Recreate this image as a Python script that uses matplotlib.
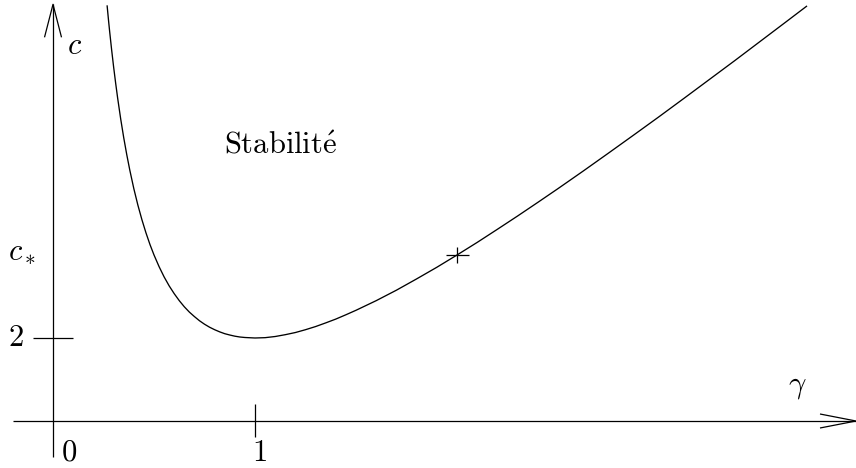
import numpy as np
import matplotlib.pyplot as plt

plt.rcParams['mathtext.fontset'] = 'cm'
plt.rcParams['font.family'] = 'serif'

# stability boundary c(gamma), minimum c = 2 at gamma = 1
gamma = [0.268, 0.275, 0.28, 0.29, 0.30, 0.31, 0.32, 0.335, 0.35, 0.365,
         0.38, 0.40, 0.42, 0.44, 0.46, 0.48, 0.50, 0.525, 0.55, 0.575,
         0.60, 0.625, 0.65, 0.675, 0.70, 0.725, 0.75, 0.775, 0.80, 0.825,
         0.85, 0.875, 0.90, 0.925, 0.95, 1.00, 1.05, 1.10, 1.15, 1.20,
         1.25, 1.30, 1.35, 1.40, 1.45, 1.50, 1.60, 1.70, 1.80, 1.90,
         2.00, 2.10, 2.20, 2.30, 2.40, 2.50, 2.625, 2.75, 2.875, 3.00,
         3.125, 3.25, 3.375, 3.50, 3.625, 3.73]
c = [4.00, 3.911, 3.851, 3.738, 3.633, 3.536, 3.445, 3.320, 3.207, 3.105,
     3.012, 2.900, 2.801, 2.713, 2.634, 2.563, 2.500, 2.430, 2.368, 2.314,
     2.267, 2.225, 2.188, 2.156, 2.129, 2.104, 2.083, 2.065, 2.050, 2.037,
     2.026, 2.018, 2.011, 2.006, 2.003, 2.000, 2.002, 2.009, 2.020, 2.033,
     2.050, 2.069, 2.091, 2.114, 2.140, 2.167, 2.225, 2.288, 2.356, 2.426,
     2.500, 2.576, 2.655, 2.735, 2.817, 2.900, 3.006, 3.114, 3.223, 3.333,
     3.445, 3.558, 3.671, 3.786, 3.901, 3.998]

# marked point (gamma_*, c_*)
g_star = 2.0
c_star = 2.5

# axis placement and ticks
c_axis = 1.5      # height of the gamma axis

fig = plt.figure(figsize=(8.56, 4.68), dpi=100)
ax = fig.add_axes([0, 0, 1, 1])
ax.set_xlim(-0.2624, 3.975)
ax.set_ylim(1.2169, 4.036)
ax.axis('off')

# pixel -> data scale
sx = 1 / 202.0
sy = 1 / 166.0
kw = dict(color='black', lw=0.9, solid_capstyle='butt', clip_on=False)

# gamma axis with open arrow head
x0, x1 = -0.198, 3.975
ax.plot([x0, x1], [c_axis, c_axis], **kw)
ax.plot([x1 - 36 * sx, x1, x1 - 36 * sx],
        [c_axis + 7 * sy, c_axis, c_axis - 7 * sy], **kw)

# c axis with open arrow head
y0, y1 = 1.283, 4.01
ax.plot([0, 0], [y0, y1], **kw)
ax.plot([-8.5 * sx, 0, 8.5 * sx], [y1 - 33 * sy, y1, y1 - 33 * sy], **kw)

# ticks
ax.plot([1, 1], [c_axis + 17 * sy, c_axis - 16 * sy], **kw)
ax.plot([-20 * sx, 20 * sx], [2, 2], **kw)

# curve
ax.plot(gamma, c, color='black', lw=0.95, solid_joinstyle='round')

# the + marker at (gamma_*, c_*)
ax.plot([g_star - 11.5 * sx, g_star + 11.5 * sx], [c_star, c_star], **kw)
ax.plot([g_star, g_star], [c_star - 8 * sy, c_star + 8 * sy], **kw)

fs = 22
ax.text(0.079, 1.313, r'$0$', fontsize=fs, ha='center', va='center')
ax.text(1.02, 1.313, r'$1$', fontsize=fs, ha='center', va='center')
ax.text(-0.183, 2.0, r'$2$', fontsize=fs, ha='center', va='center')
ax.text(-0.153, 2.52, r'$c_*$', fontsize=fs, ha='center', va='center')
ax.text(0.109, 3.76, r'$c$', fontsize=fs, ha='center', va='center')
ax.text(3.683, 1.711, r'$\gamma$', fontsize=fs, ha='center', va='center')
ax.text(1.124, 3.163, r'$\mathrm{Stabilit\acute{e}}$', fontsize=fs,
        ha='center', va='center')

fig.savefig('out.png', dpi=100, facecolor='white')
